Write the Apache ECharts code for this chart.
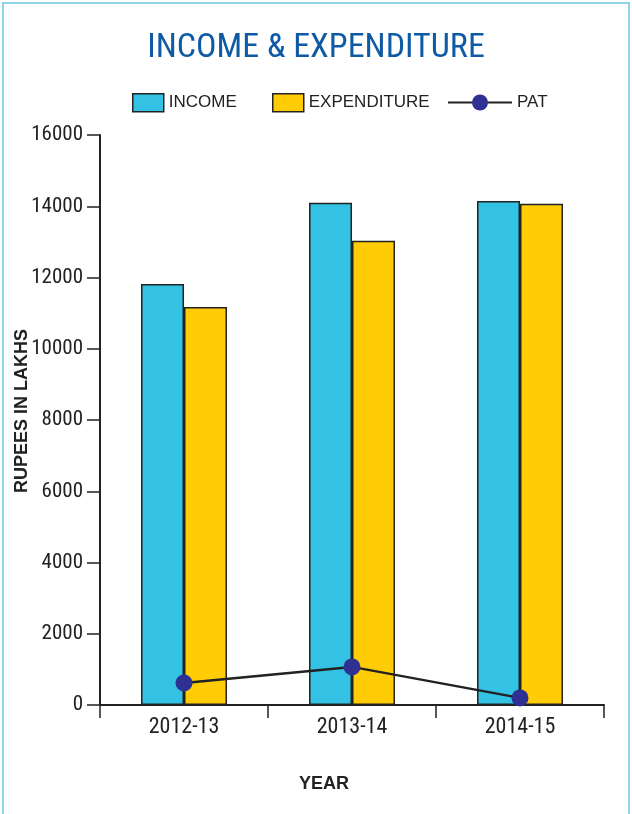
<!DOCTYPE html>
<html><head><meta charset="utf-8">
<script src="https://cdn.jsdelivr.net/npm/echarts@6/dist/echarts.min.js"></script>
<style>html,body{margin:0;padding:0;background:#fff}#c{width:632px;height:814px}</style>
</head><body><div id="c"></div>
<script>
var categories = ['2012-13', '2013-14', '2014-15'];
var income = [11820, 14100, 14150];
var expenditure = [11170, 13030, 14070];
var pat = [620, 1070, 200];
var yTicks = [0, 2000, 4000, 6000, 8000, 10000, 12000, 14000, 16000];

var NARROW = '"Roboto Condensed", "Liberation Sans Narrow", "DejaVu Sans Condensed", sans-serif';
var SANS = '"Liberation Sans", Arial, sans-serif';
var chart = echarts.init(document.getElementById('c'), null, {renderer: 'canvas'});
var legendText = {color: '#222', fontFamily: SANS, fontSize: 17};
chart.setOption({
  animation: false,
  backgroundColor: '#fff',
  graphic: [
    {type: 'rect', shape: {x: 3, y: 3, width: 626, height: 830},
      style: {fill: 'none', stroke: '#8fd3ea', lineWidth: 2}, z: -1},
    {type: 'text', x: 324, y: 784,
      style: {text: 'YEAR', fill: '#222', font: 'bold 18px ' + SANS, textAlign: 'center', textVerticalAlign: 'middle'}},
    {type: 'text', x: 22, y: 411, rotation: Math.PI / 2,
      style: {text: 'RUPEES IN LAKHS', fill: '#222', font: 'bold 18px ' + SANS, textAlign: 'center', textVerticalAlign: 'middle'}}
  ],
  title: {
    text: 'INCOME & EXPENDITURE', left: 'center', top: 26,
    textStyle: {color: '#0f5aa5', fontFamily: NARROW, fontSize: 34, fontWeight: 'normal'}
  },
  legend: [
    {top: 88, left: 127, itemWidth: 31, itemHeight: 18, textStyle: legendText,
      data: [{name: 'INCOME', icon: 'rect', itemStyle: {borderColor: '#222', borderWidth: 1.5}}]},
    {top: 88, left: 267, itemWidth: 31, itemHeight: 18, textStyle: legendText,
      data: [{name: 'EXPENDITURE', icon: 'rect', itemStyle: {borderColor: '#222', borderWidth: 1.5}}]},
    {top: 89, left: 442, itemWidth: 64, itemHeight: 20, textStyle: legendText,
      data: [{name: 'PAT'}]}
  ],
  grid: {left: 100, top: 135, right: 28, bottom: 109, outerBoundsMode: 'none', containLabel: false},
  xAxis: {
    type: 'category', data: categories,
    axisLine: {lineStyle: {color: '#222', width: 2}},
    axisTick: {show: true, length: 13, lineStyle: {color: '#222', width: 1.5}},
    axisLabel: {color: '#222', fontFamily: NARROW, fontSize: 22, margin: 11}
  },
  yAxis: {
    type: 'value', min: 0, max: 16000, interval: 2000,
    axisLine: {show: true, lineStyle: {color: '#222', width: 2}},
    axisTick: {show: true, length: 13, lineStyle: {color: '#222', width: 1.5}},
    splitLine: {show: false},
    axisLabel: {color: '#222', fontFamily: NARROW, fontSize: 21, margin: 17,
      formatter: function (v) { return yTicks.indexOf(v) >= 0 ? String(v) : ''; }}
  },
  series: [
    {name: 'INCOME', type: 'bar', data: income, barWidth: 43, barGap: '0%',
      itemStyle: {color: '#33c2e3', borderColor: '#222', borderWidth: 1.5}},
    {name: 'EXPENDITURE', type: 'bar', data: expenditure, barWidth: 43, barGap: '0%',
      itemStyle: {color: '#ffcc05', borderColor: '#222', borderWidth: 1.5}},
    {name: 'PAT', type: 'line', data: pat, symbol: 'circle', symbolSize: 17, z: 5,
      lineStyle: {color: '#222', width: 2.5},
      itemStyle: {color: '#2e3192', borderWidth: 0}}
  ]
});
</script></body></html>
